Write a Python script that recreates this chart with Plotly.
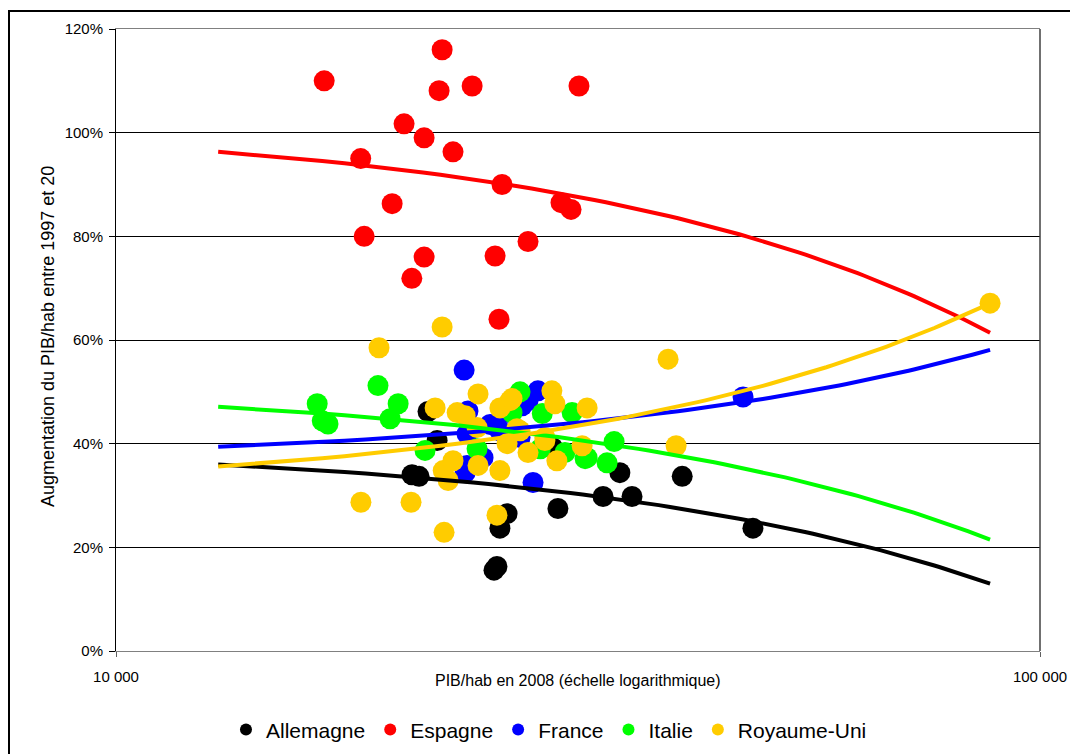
import numpy as np
import plotly.graph_objects as go

# ---------------- data (GDP per head 2008, growth 1997-2008) ----------------
series_names = ["Allemagne", "Espagne", "France", "Italie", "Royaume-Uni"]
series_colors = ["#000000", "#FF0000", "#0000FF", "#00FF00", "#FFCC00"]

allemagne_x = [21760, 22260, 20910, 21280, 26500, 26030, 25650, 25840, 30080,
               29700, 35100, 33660, 36180, 41000, 48900]
allemagne_y = [0.462, 0.406, 0.340, 0.337, 0.265, 0.237, 0.156, 0.163, 0.275,
               0.392, 0.344, 0.298, 0.298, 0.337, 0.237]

espagne_x = [16800, 20500, 21550, 18400, 19900, 18560, 21550, 20900, 22540,
             22370, 24290, 31700, 23160, 26170, 30310, 31080, 27920, 25720, 25970]
espagne_y = [1.100, 1.017, 0.990, 0.950, 0.863, 0.800, 0.760, 0.719, 1.160,
             1.081, 1.090, 1.090, 0.963, 0.900, 0.865, 0.852, 0.790, 0.762, 0.640]

france_x = [23810, 28620, 27510, 27920, 25400, 26030, 23980, 27370, 24960,
            23980, 23870, 28270, 47710, 24040, 26360]
france_y = [0.542, 0.502, 0.473, 0.483, 0.437, 0.425, 0.419, 0.412, 0.373,
            0.358, 0.344, 0.325, 0.490, 0.463, 0.460]

italie_x = [16510, 16720, 16960, 19210, 20200, 19800, 21600, 24590, 27370,
            26830, 28930, 31160, 28790, 30610, 32350, 34000, 34600, 32190]
italie_y = [0.477, 0.444, 0.438, 0.512, 0.477, 0.448, 0.387, 0.390, 0.500,
            0.460, 0.458, 0.460, 0.390, 0.383, 0.373, 0.363, 0.404, 0.371]

royaume_x = [19260, 22540, 39580, 88300, 22150, 23400, 23870, 24650, 26700,
             26030, 26830, 29630, 29850, 32350, 24590, 27160, 26500, 29120,
             31950, 27920, 30000, 22600, 23160, 24650, 26030, 22880, 18410,
             20860, 22650, 25840, 40380, 27370, 29120]
royaume_y = [0.585, 0.625, 0.563, 0.671, 0.469, 0.460, 0.454, 0.496, 0.483,
             0.469, 0.487, 0.502, 0.477, 0.469, 0.431, 0.429, 0.400, 0.406,
             0.396, 0.383, 0.367, 0.348, 0.367, 0.358, 0.348, 0.329, 0.287,
             0.287, 0.229, 0.262, 0.396, 0.425, 0.412]

series_x = [allemagne_x, espagne_x, france_x, italie_x, royaume_x]
series_y = [allemagne_y, espagne_y, france_y, italie_y, royaume_y]

# linear trend lines (y = a + b*x), given by their values at both ends
trend_x_range = [12900, 88300]
trend_start = [0.360, 0.963, 0.394, 0.471, 0.356]
trend_end = [0.130, 0.614, 0.581, 0.215, 0.671]

y_tick_vals = [0, 0.2, 0.4, 0.6, 0.8, 1.0, 1.2]
y_tick_text = ["0%", "20%", "40%", "60%", "80%", "100%", "120%"]
x_tick_vals = [10000, 100000]
x_tick_text = ["10 000", "100 000"]

FONT = "Liberation Sans, Arial, sans-serif"

fig = go.Figure()

for name, col, xs, ys in zip(series_names, series_colors, series_x, series_y):
    fig.add_trace(go.Scatter(
        x=xs, y=ys, mode="markers", name=name,
        marker=dict(color=col, size=21, line=dict(width=0)),
    ))

# trend lines (linear in x, hence curved on the log axis) drawn on top
for name, col, y0, y1 in zip(series_names, series_colors, trend_start, trend_end):
    tx = np.linspace(trend_x_range[0], trend_x_range[1], 80)
    ty = y0 + (tx - trend_x_range[0]) * (y1 - y0) / (trend_x_range[1] - trend_x_range[0])
    fig.add_trace(go.Scatter(
        x=tx, y=ty, mode="lines", showlegend=False, hoverinfo="skip",
        line=dict(color=col, width=4),
    ))

fig.update_layout(
    width=1078, height=754,
    margin=dict(l=108, r=46, t=19, b=111),
    paper_bgcolor="white", plot_bgcolor="white",
    font=dict(family=FONT, color="black", size=15),
    showlegend=True,
    legend=dict(
        orientation="h", x=0.4686, xanchor="center", y=-0.1266, yanchor="middle",
        font=dict(size=21, family=FONT), itemsizing="constant",
        traceorder="normal", itemwidth=30, bgcolor="rgba(0,0,0,0)",
    ),
    xaxis=dict(
        type="log", range=[4, 5], showgrid=False, zeroline=False,
        tickvals=x_tick_vals, ticktext=x_tick_text,
        ticks="outside", ticklen=5, tickcolor="#606060",
        showline=True, linecolor="#808080", linewidth=1, mirror=True,
        tickfont=dict(size=15), ticklabelstandoff=7,
    ),
    yaxis=dict(
        range=[0, 1.2], showgrid=True, gridcolor="black", gridwidth=1,
        zeroline=False, tickvals=y_tick_vals, ticktext=y_tick_text,
        ticks="outside", ticklen=6, tickcolor="black",
        showline=True, linecolor="black", linewidth=1,
        tickfont=dict(size=15), ticklabelstandoff=3,
    ),
    annotations=[
        dict(text="PIB/hab en 2008 (échelle logarithmique)", xref="paper", yref="paper",
             x=0.5, y=-0.0481, xanchor="center", yanchor="middle", showarrow=False,
             font=dict(size=16, family=FONT)),
        dict(text="Augmentation du PIB/hab entre 1997 et 20", xref="paper", yref="paper",
             x=-0.0736, y=0.5064, xanchor="center", yanchor="middle", showarrow=False,
             textangle=-90, font=dict(size=18, family=FONT)),
    ],
    shapes=[
        # outer chart frame (left and top edges visible)
        dict(type="rect", xref="paper", yref="paper",
             x0=-0.1158, x1=1.2, y0=-0.4, y1=1.0288,
             line=dict(color="black", width=2), fillcolor="rgba(0,0,0,0)", layer="below"),
        # right border of the plot area
        dict(type="line", xref="paper", yref="paper", x0=1, x1=1, y0=0, y1=1,
             line=dict(color="#404040", width=1.5)),
    ],
)

fig.write_html("out.html")
